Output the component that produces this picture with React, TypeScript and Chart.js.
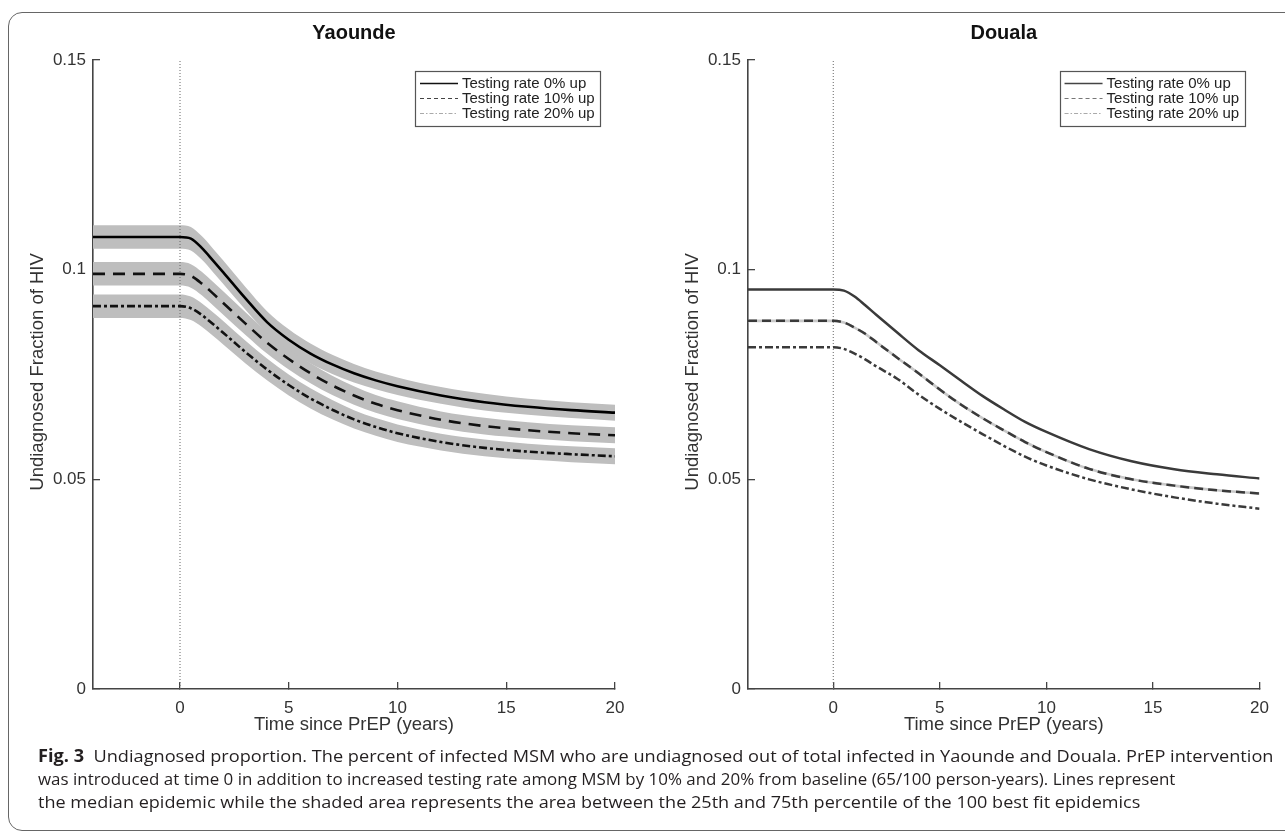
import React, { useEffect, useLayoutEffect, useRef } from 'react';
import { Chart, registerables } from 'chart.js';

Chart.register(...registerables);

// ---------------- data ----------------
const TIME_YEARS = [-4, 0, 0.5, 1, 1.5, 2, 3, 4, 5, 6, 7, 8, 9, 10, 12, 14, 16, 18, 20];

// Yaounde medians
const YAOUNDE_0 = [0.1078, 0.1078, 0.1074, 0.1052, 0.1023, 0.0993, 0.0932, 0.0875, 0.0833, 0.0800, 0.0774, 0.0753, 0.0736, 0.0722, 0.0700, 0.0684, 0.0673, 0.0665, 0.0659];
const YAOUNDE_10 = [0.0990, 0.0990, 0.0985, 0.0967, 0.0944, 0.0920, 0.0872, 0.0826, 0.0787, 0.0753, 0.0724, 0.0700, 0.0680, 0.0665, 0.0642, 0.0627, 0.0617, 0.0610, 0.0605];
const YAOUNDE_20 = [0.0913, 0.0913, 0.0908, 0.0892, 0.0871, 0.0849, 0.0804, 0.0762, 0.0725, 0.0693, 0.0666, 0.0643, 0.0625, 0.0610, 0.0589, 0.0575, 0.0566, 0.0560, 0.0555];
// Yaounde 25th / 75th percentiles
const YAOUNDE_0_Q75 = [0.1106, 0.1106, 0.1102, 0.1080, 0.1051, 0.1021, 0.0959, 0.0901, 0.0858, 0.0824, 0.0797, 0.0775, 0.0757, 0.0743, 0.0720, 0.0704, 0.0692, 0.0684, 0.0678];
const YAOUNDE_0_Q25 = [0.1050, 0.1050, 0.1046, 0.1024, 0.0995, 0.0965, 0.0905, 0.0849, 0.0808, 0.0776, 0.0751, 0.0731, 0.0715, 0.0701, 0.0680, 0.0664, 0.0654, 0.0646, 0.0640];
const YAOUNDE_10_Q75 = [0.1018, 0.1018, 0.1013, 0.0995, 0.0972, 0.0948, 0.0899, 0.0852, 0.0812, 0.0777, 0.0747, 0.0722, 0.0701, 0.0686, 0.0662, 0.0647, 0.0636, 0.0629, 0.0624];
const YAOUNDE_10_Q25 = [0.0962, 0.0962, 0.0957, 0.0939, 0.0916, 0.0892, 0.0845, 0.0800, 0.0762, 0.0729, 0.0701, 0.0678, 0.0659, 0.0644, 0.0622, 0.0607, 0.0598, 0.0591, 0.0586];
const YAOUNDE_20_Q75 = [0.0941, 0.0941, 0.0936, 0.0920, 0.0899, 0.0877, 0.0831, 0.0788, 0.0750, 0.0717, 0.0689, 0.0665, 0.0646, 0.0631, 0.0609, 0.0595, 0.0585, 0.0579, 0.0574];
const YAOUNDE_20_Q25 = [0.0885, 0.0885, 0.0880, 0.0864, 0.0843, 0.0821, 0.0777, 0.0736, 0.0700, 0.0669, 0.0643, 0.0621, 0.0604, 0.0589, 0.0569, 0.0555, 0.0547, 0.0541, 0.0536];

// Douala medians
const DOUALA_0 = [0.0953, 0.0953, 0.0950, 0.0936, 0.0915, 0.0893, 0.0850, 0.0808, 0.0772, 0.0735, 0.0699, 0.0667, 0.0637, 0.0613, 0.0572, 0.0543, 0.0524, 0.0512, 0.0502];
const DOUALA_10 = [0.0878, 0.0878, 0.0874, 0.0862, 0.0847, 0.0828, 0.0790, 0.0753, 0.0714, 0.0678, 0.0646, 0.0617, 0.0589, 0.0565, 0.0525, 0.0500, 0.0485, 0.0474, 0.0466];
const DOUALA_20 = [0.0815, 0.0815, 0.0811, 0.0800, 0.0786, 0.0770, 0.0740, 0.0702, 0.0668, 0.0637, 0.0608, 0.0580, 0.0554, 0.0533, 0.0500, 0.0476, 0.0457, 0.0442, 0.0430];

const SERIES_LABELS = ['Testing rate 0% up', 'Testing rate 10% up', 'Testing rate 20% up'];
const PANEL_TITLES = ['Yaounde', 'Douala'];
const X_TICKS = [0, 5, 10, 15, 20];
const X_TICK_LABELS = ['0', '5', '10', '15', '20'];
const Y_TICKS = [0, 0.05, 0.1, 0.15];
const Y_TICK_LABELS = ['0', '0.05', '0.1', '0.15'];
const X_AXIS_TITLE = 'Time since PrEP (years)';
const Y_AXIS_TITLE = 'Undiagnosed Fraction of HIV';
const PREP_START_X = [0, 0];
const PREP_START_Y = [0, 0.15];

const CAPTION_BOLD = 'Fig. 3';
const CAPTION_LINES = [
  'Undiagnosed proportion. The percent of infected MSM who are undiagnosed out of total infected in Yaounde and Douala. PrEP intervention',
  'was introduced at time 0 in addition to increased testing rate among MSM by 10% and 20% from baseline (65/100 person-years). Lines represent',
  'the median epidemic while the shaded area represents the area between the 25th and 75th percentile of the 100 best fit epidemics',
];

// ---------------- styling ----------------
const FONT = '"Liberation Sans", Arial, Helvetica, sans-serif';
const CAPTION_TARGET_W = [1236, 1137, 1102];

const pts = (xs: number[], ys: number[]) => xs.map((x, i) => ({ x, y: ys[i] }));

const panelTitlePlugin = {
  id: 'panelTitle',
  afterDraw(chart: any, _a: any, opts: any) {
    const { ctx, chartArea } = chart;
    ctx.save();
    ctx.font = `bold 20px ${FONT}`;
    ctx.fillStyle = '#111';
    ctx.textAlign = 'center';
    ctx.textBaseline = 'middle';
    ctx.fillText(opts.text, (chartArea.left + chartArea.right) / 2, opts.y);
    ctx.restore();
  },
};

const boxLegendPlugin = {
  id: 'boxLegend',
  afterDraw(chart: any, _a: any, opts: any) {
    const { ctx, chartArea } = chart;
    const w = opts.width;
    const right = chartArea.right - opts.rightInset;
    const left = right - w;
    const top = chartArea.top + opts.topOffset;
    const h = opts.padY * 2 + opts.rowH * opts.items.length;
    ctx.save();
    ctx.fillStyle = '#fff';
    ctx.fillRect(left, top, w, h);
    ctx.strokeStyle = '#555';
    ctx.lineWidth = 1.2;
    ctx.setLineDash([]);
    ctx.strokeRect(Math.round(left) + 0.5, Math.round(top) + 0.5, w, h);
    opts.items.forEach((it: any, i: number) => {
      const y = top + opts.padY + opts.rowH * (i + 0.5);
      ctx.beginPath();
      ctx.setLineDash(it.dash);
      ctx.strokeStyle = it.color;
      ctx.lineWidth = it.width;
      ctx.moveTo(left + 5, y);
      ctx.lineTo(left + 43, y);
      ctx.stroke();
      ctx.setLineDash([]);
      ctx.fillStyle = '#222';
      ctx.font = `15px ${FONT}`;
      ctx.textAlign = 'left';
      ctx.textBaseline = 'middle';
      ctx.fillText(it.label, left + 47, y + 0.5);
    });
    ctx.restore();
  },
};

type Style = { color: string; width: number; dash: number[] };

function makeConfig(p: {
  title: string;
  medians: number[][];
  styles: Style[];
  bands: number[][][] | null;
  underlay: number[] | null;
  legend: Style[];
  padRight: number;
}) {
  const datasets: any[] = [];
  p.medians.forEach((m, i) => {
    datasets.push({
      label: SERIES_LABELS[i],
      data: pts(TIME_YEARS, m),
      borderColor: p.styles[i].color,
      borderWidth: p.styles[i].width,
      borderDash: p.styles[i].dash,
      borderCapStyle: 'butt',
      pointRadius: 0,
      fill: false,
      cubicInterpolationMode: 'monotone',
    });
  });
  if (p.underlay) {
    datasets.push({
      label: 'underlay',
      data: pts(TIME_YEARS, p.underlay),
      borderColor: '#c8c8c8',
      borderWidth: 2.6,
      pointRadius: 0,
      fill: false,
      cubicInterpolationMode: 'monotone',
    });
  }
  datasets.push({
    label: 'PrEP start',
    data: pts(PREP_START_X, PREP_START_Y),
    borderColor: '#666',
    borderWidth: 1,
    borderDash: [1, 2],
    pointRadius: 0,
    fill: false,
    tension: 0,
  });
  if (p.bands) {
    p.bands.forEach(([lo, hi]) => {
      datasets.push({
        label: 'q75',
        data: pts(TIME_YEARS, hi),
        borderColor: 'rgba(0,0,0,0)',
        borderWidth: 0,
        pointRadius: 0,
        fill: false,
        cubicInterpolationMode: 'monotone',
      });
      datasets.push({
        label: 'q25',
        data: pts(TIME_YEARS, lo),
        borderColor: 'rgba(0,0,0,0)',
        borderWidth: 0,
        pointRadius: 0,
        fill: '-1',
        backgroundColor: '#bebebe',
        cubicInterpolationMode: 'monotone',
      });
    });
  }

  const axisColor = '#444';
  return {
    type: 'line',
    data: { datasets },
    plugins: [panelTitlePlugin, boxLegendPlugin],
    options: {
      responsive: false,
      animation: false,
      devicePixelRatio: 1,
      layout: { padding: { left: 0, right: p.padRight, top: 60, bottom: 0 } },
      plugins: {
        legend: { display: false },
        tooltip: { enabled: false },
        panelTitle: { text: p.title, y: 33 },
        boxLegend: {
          rightInset: 15,
          topOffset: 11,
          width: 185,
          padY: 5,
          rowH: 15,
          items: p.legend.map((s, i) => ({ ...s, label: SERIES_LABELS[i] })),
        },
      },
      scales: {
        x: {
          type: 'linear',
          min: -4,
          max: 20,
          afterBuildTicks: (s: any) => {
            s.ticks = X_TICKS.map((v) => ({ value: v }));
          },
          afterFit: (s: any) => {
            s.height = 71;
          },
          grid: { drawOnChartArea: false, drawTicks: true, tickLength: -7, color: axisColor, lineWidth: 1.3 },
          border: { display: true, color: axisColor, width: 1.6 },
          ticks: {
            padding: 16,
            color: '#333',
            font: { family: FONT, size: 17 },
            maxRotation: 0,
            autoSkip: false,
            callback: (_v: any, i: number) => X_TICK_LABELS[i],
          },
          title: {
            display: true,
            text: X_AXIS_TITLE,
            color: '#333',
            font: { family: FONT, size: 18.5 },
            padding: { top: 0, bottom: 24 },
          },
        },
        y: {
          type: 'linear',
          min: 0,
          max: 0.15,
          afterBuildTicks: (s: any) => {
            s.ticks = Y_TICKS.map((v) => ({ value: v }));
          },
          afterFit: (s: any) => {
            s.width = 93;
          },
          grid: { drawOnChartArea: false, drawTicks: true, tickLength: -7, color: axisColor, lineWidth: 1.3 },
          border: { display: true, color: axisColor, width: 1.6 },
          ticks: {
            padding: 14,
            color: '#333',
            font: { family: FONT, size: 17 },
            autoSkip: false,
            callback: (_v: any, i: number) => Y_TICK_LABELS[i],
          },
          title: {
            display: true,
            text: '\u00a0' + Y_AXIS_TITLE,
            color: '#333',
            font: { family: FONT, size: 18.5 },
            padding: { top: 27, bottom: 0 },
          },
        },
      },
    },
  } as any;
}

export default function App() {
  const leftRef = useRef<HTMLCanvasElement | null>(null);
  const rightRef = useRef<HTMLCanvasElement | null>(null);
  const lineRefs = useRef<(HTMLSpanElement | null)[]>([]);

  useEffect(() => {
    const c1 = new Chart(
      leftRef.current as HTMLCanvasElement,
      makeConfig({
        title: PANEL_TITLES[0],
        medians: [YAOUNDE_0, YAOUNDE_10, YAOUNDE_20],
        styles: [
          { color: '#000', width: 2.6, dash: [] },
          { color: '#111', width: 2.6, dash: [12, 8] },
          { color: '#111', width: 2.6, dash: [8, 3, 3, 3] },
        ],
        bands: [
          [YAOUNDE_0_Q25, YAOUNDE_0_Q75],
          [YAOUNDE_10_Q25, YAOUNDE_10_Q75],
          [YAOUNDE_20_Q25, YAOUNDE_20_Q75],
        ],
        underlay: null,
        legend: [
          { color: '#111', width: 1.5, dash: [] },
          { color: '#444', width: 1.2, dash: [4, 3] },
          { color: '#aaa', width: 1.2, dash: [4, 2, 1.5, 2] },
        ],
        padRight: 35,
      })
    );
    const c2 = new Chart(
      rightRef.current as HTMLCanvasElement,
      makeConfig({
        title: PANEL_TITLES[1],
        medians: [DOUALA_0, DOUALA_10, DOUALA_20],
        styles: [
          { color: '#3a3a3a', width: 2.5, dash: [] },
          { color: '#3a3a3a', width: 2.5, dash: [9, 5] },
          { color: '#3a3a3a', width: 2.5, dash: [8, 3, 3, 3] },
        ],
        bands: null,
        underlay: DOUALA_10,
        legend: [
          { color: '#444', width: 1.5, dash: [] },
          { color: '#777', width: 1.2, dash: [4, 3] },
          { color: '#aaa', width: 1.2, dash: [4, 2, 1.5, 2] },
        ],
        padRight: 15,
      })
    );
    return () => {
      c1.destroy();
      c2.destroy();
    };
  }, []);

  useLayoutEffect(() => {
    lineRefs.current.forEach((el, i) => {
      if (!el) return;
      const w = el.offsetWidth;
      if (w > 0) el.style.transform = `scaleX(${CAPTION_TARGET_W[i] / w})`;
    });
  }, []);

  return (
    <div
      style={{
        position: 'fixed',
        left: 0,
        top: 0,
        width: 1285,
        height: 835,
        overflow: 'hidden',
        background: '#fff',
      }}
    >
      <div
        style={{
          position: 'absolute',
          left: 8,
          top: 12,
          width: 1320,
          height: 819,
          border: '1.5px solid #666',
          borderRadius: 14,
          boxSizing: 'border-box',
        }}
      />
      <canvas
        ref={leftRef}
        width={650}
        height={760}
        style={{ position: 'absolute', left: 0, top: 0, width: 650, height: 760 }}
      />
      <canvas
        ref={rightRef}
        width={630}
        height={760}
        style={{ position: 'absolute', left: 655, top: 0, width: 630, height: 760 }}
      />
      <div
        style={{
          position: 'absolute',
          left: 38,
          top: 744,
          fontFamily: '"Open Sans", "Noto Sans", sans-serif',
          fontSize: 17,
          lineHeight: '23px',
          color: '#231f20',
        }}
      >
        {CAPTION_LINES.map((t, i) => (
          <div key={i} style={{ height: 23, whiteSpace: 'nowrap' }}>
            <span
              ref={(el) => {
                lineRefs.current[i] = el;
              }}
              style={{ display: 'inline-block', transformOrigin: '0 50%', whiteSpace: 'nowrap' }}
            >
              {i === 0 ? (
                <>
                  <b style={{ fontWeight: 700 }}>{CAPTION_BOLD}</b>
                  {'\u00a0\u00a0' + t}
                </>
              ) : (
                t
              )}
            </span>
          </div>
        ))}
      </div>
    </div>
  );
}
